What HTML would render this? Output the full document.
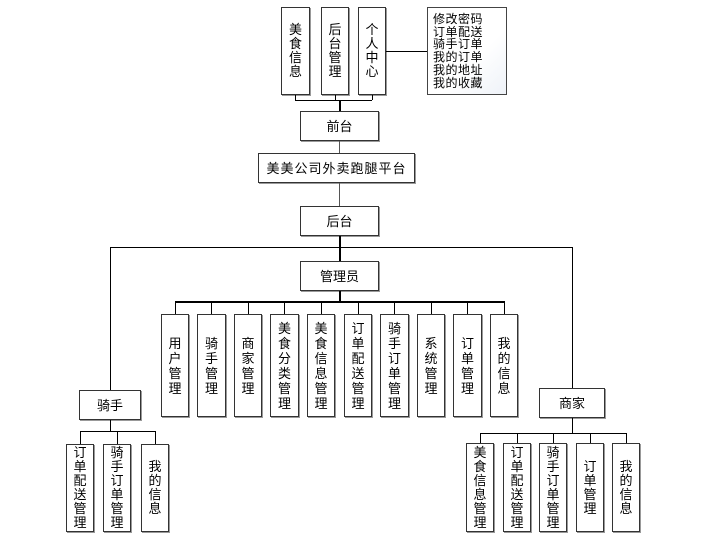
<!DOCTYPE html>
<html><head><meta charset="utf-8"><style>
html,body{margin:0;padding:0;background:#fff;}
body{width:702px;height:544px;position:relative;overflow:hidden;font-family:"Liberation Sans","Noto Sans CJK SC",sans-serif;font-size:13px;color:#000;}
.b{position:absolute;box-sizing:border-box;border:1px solid #333;background:#fff;box-shadow:1px 1px 0 #999;display:flex;align-items:center;justify-content:center;text-align:center;line-height:15px;}
.s{line-height:14px;}
.h{position:absolute;height:0;border-top:1px solid #000;}
.v{position:absolute;width:0;border-left:1px solid #000;}
.note{position:absolute;left:427px;top:7px;width:80px;height:88px;box-sizing:border-box;border:1px solid #444;background:linear-gradient(135deg,#fff 60%,#eef2f8);padding:5px 0 0 5px;font-size:12px;line-height:12.7px;letter-spacing:0.5px;}
</style></head><body>
<div class="b s" style="left:281px;top:7px;width:29px;height:88px;">美<br>食<br>信<br>息</div>
<div class="b s" style="left:321px;top:7px;width:28px;height:88px;">后<br>台<br>管<br>理</div>
<div class="b s" style="left:358px;top:7px;width:28px;height:88px;">个<br>人<br>中<br>心</div>
<div class="note">修改密码<br>订单配送<br>骑手订单<br>我的订单<br>我的地址<br>我的收藏</div>
<div class="h" style="left:386px;top:51px;width:41px;"></div>
<div class="v" style="left:295px;top:95px;height:5px;"></div>
<div class="v" style="left:335px;top:95px;height:5px;"></div>
<div class="v" style="left:372px;top:95px;height:5px;"></div>
<div class="h" style="left:295px;top:100px;width:77px;"></div>
<div class="v" style="left:339px;top:100px;height:11px;border-left-width:2px;"></div>

<div class="b" style="left:300px;top:111px;width:79px;height:30px;">前台</div>
<div class="v" style="left:339px;top:141px;height:12px;border-color:#555;"></div>
<div class="b" style="left:258px;top:153px;width:157px;height:30px;letter-spacing:1px;">美美公司外卖跑腿平台</div>
<div class="v" style="left:339px;top:183px;height:23px;border-color:#555;"></div>
<div class="b" style="left:300px;top:206px;width:79px;height:30px;">后台</div>
<div class="v" style="left:339px;top:236px;height:25px;border-left-width:2px;"></div>

<div class="h" style="left:110px;top:247px;width:462px;"></div>
<div class="v" style="left:110px;top:247px;height:143px;"></div>
<div class="v" style="left:572px;top:247px;height:141px;"></div>

<div class="b" style="left:300px;top:261px;width:79px;height:30px;">管理员</div>
<div class="v" style="left:339px;top:291px;height:10px;border-left-width:2px;"></div>
<div class="h" style="left:175px;top:301px;width:329px;border-top-width:2px;"></div>

<div class="v" style="left:175px;top:301px;height:13px;"></div>
<div class="v" style="left:211px;top:301px;height:13px;"></div>
<div class="v" style="left:248px;top:301px;height:13px;"></div>
<div class="v" style="left:284px;top:301px;height:13px;"></div>
<div class="v" style="left:321px;top:301px;height:13px;"></div>
<div class="v" style="left:358px;top:301px;height:13px;"></div>
<div class="v" style="left:394px;top:301px;height:13px;"></div>
<div class="v" style="left:431px;top:301px;height:13px;"></div>
<div class="v" style="left:467px;top:301px;height:13px;"></div>
<div class="v" style="left:504px;top:301px;height:13px;"></div>

<div class="b" style="left:161px;top:314px;width:28px;height:103px;">用<br>户<br>管<br>理</div>
<div class="b" style="left:197px;top:314px;width:29px;height:103px;">骑<br>手<br>管<br>理</div>
<div class="b" style="left:234px;top:314px;width:28px;height:103px;">商<br>家<br>管<br>理</div>
<div class="b" style="left:270px;top:314px;width:29px;height:103px;">美<br>食<br>分<br>类<br>管<br>理</div>
<div class="b" style="left:307px;top:314px;width:28px;height:103px;">美<br>食<br>信<br>息<br>管<br>理</div>
<div class="b" style="left:344px;top:314px;width:28px;height:103px;">订<br>单<br>配<br>送<br>管<br>理</div>
<div class="b" style="left:380px;top:314px;width:29px;height:103px;">骑<br>手<br>订<br>单<br>管<br>理</div>
<div class="b" style="left:417px;top:314px;width:28px;height:103px;">系<br>统<br>管<br>理</div>
<div class="b" style="left:453px;top:314px;width:29px;height:103px;">订<br>单<br>管<br>理</div>
<div class="b" style="left:490px;top:314px;width:28px;height:103px;">我<br>的<br>信<br>息</div>

<div class="b" style="left:79px;top:390px;width:62px;height:30px;">骑手</div>
<div class="v" style="left:110px;top:420px;height:11px;"></div>
<div class="h" style="left:80px;top:431px;width:75px;"></div>
<div class="v" style="left:80px;top:431px;height:13px;"></div>
<div class="v" style="left:117px;top:431px;height:13px;"></div>
<div class="v" style="left:155px;top:431px;height:13px;"></div>
<div class="b s" style="left:66px;top:444px;width:28px;height:88px;">订<br>单<br>配<br>送<br>管<br>理</div>
<div class="b s" style="left:103px;top:444px;width:28px;height:88px;">骑<br>手<br>订<br>单<br>管<br>理</div>
<div class="b s" style="left:141px;top:444px;width:28px;height:88px;">我<br>的<br>信<br>息</div>

<div class="b" style="left:539px;top:388px;width:66px;height:30px;">商家</div>
<div class="v" style="left:572px;top:418px;height:15px;"></div>
<div class="h" style="left:480px;top:433px;width:146px;"></div>
<div class="v" style="left:480px;top:433px;height:10px;"></div>
<div class="v" style="left:517px;top:433px;height:10px;"></div>
<div class="v" style="left:553px;top:433px;height:10px;"></div>
<div class="v" style="left:590px;top:433px;height:10px;"></div>
<div class="v" style="left:626px;top:433px;height:10px;"></div>
<div class="b s" style="left:466px;top:443px;width:28px;height:89px;">美<br>食<br>信<br>息<br>管<br>理</div>
<div class="b s" style="left:503px;top:443px;width:28px;height:89px;">订<br>单<br>配<br>送<br>管<br>理</div>
<div class="b s" style="left:539px;top:443px;width:28px;height:89px;">骑<br>手<br>订<br>单<br>管<br>理</div>
<div class="b s" style="left:576px;top:443px;width:28px;height:89px;">订<br>单<br>管<br>理</div>
<div class="b s" style="left:612px;top:443px;width:28px;height:89px;">我<br>的<br>信<br>息</div>
</body></html>
